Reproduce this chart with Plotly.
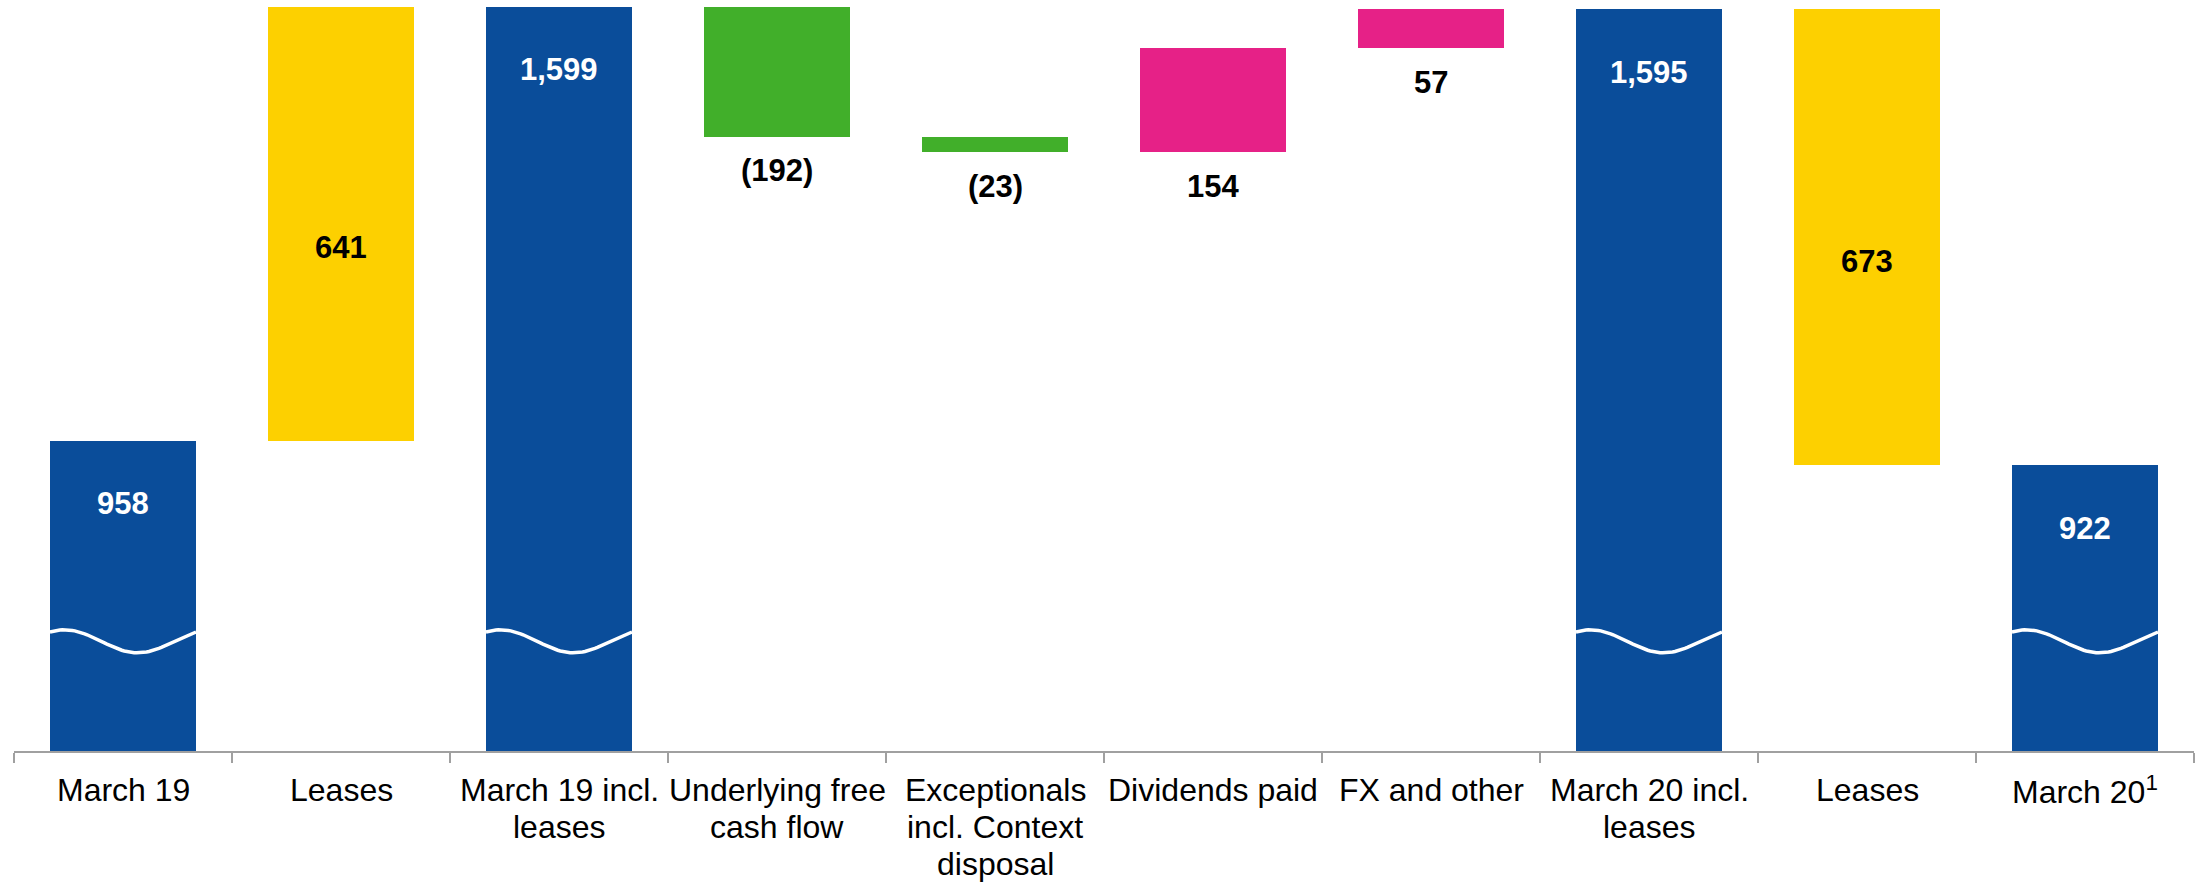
import numpy as np
import plotly.graph_objs as go

# net debt bridge, GBP m
categories = [
    "March 19", "Leases", "March 19 incl.<br>leases", "Underlying free<br>cash flow",
    "Exceptionals<br>incl. Context<br>disposal", "Dividends paid", "FX and other",
    "March 20 incl.<br>leases", "Leases", "March 20<sup>1</sup>",
]
values = [958, 641, 1599, -192, -23, 154, 57, 1595, -673, 922]
kinds = ["total", "lease", "total", "flow", "flow", "flow", "flow", "total", "lease", "total"]
labels = ["958", "641", "1,599", "(192)", "(23)", "154", "57", "1,595", "673", "922"]

BLUE = '#0A4D9A'
YELLOW = '#FDD000'
GREEN = '#41AF2A'
PINK = '#E62187'
FONT = 'Liberation Sans, Arial, sans-serif'
BAR_W = 0.67

xs = list(range(len(categories)))
bases, heights, colors = [], [], []
running = 0
for v, k in zip(values, kinds):
    if k == 'total':
        bases.append(0)
        heights.append(v)
        colors.append(BLUE)
        running = v
    else:
        bases.append(min(running, running + v))
        heights.append(abs(v))
        if k == 'lease':
            colors.append(YELLOW)
        else:
            colors.append(GREEN if v < 0 else PINK)
        running += v

bars = go.Bar(
    x=xs,
    y=heights,
    base=bases,
    width=BAR_W,
    marker=dict(color=colors, line=dict(width=0)),
    hoverinfo='skip',
    showlegend=False,
)

# wavy "axis break" lines across the total bars
wx, wy = [], []
for i, k in enumerate(kinds):
    if k != 'total':
        continue
    t = np.linspace(0, 1, 60)
    wx += list(i - BAR_W / 2 + t * BAR_W) + [None]
    wy += list(662 + 17 * np.cos(2 * np.pi * (t - 0.1))) + [None]

waves = go.Scatter(
    x=wx, y=wy, mode='lines',
    line=dict(color='white', width=3.5),
    hoverinfo='skip', showlegend=False,
)

layout = go.Layout(
    width=2201, height=882,
    plot_bgcolor='white', paper_bgcolor='white',
    margin=dict(l=14, r=7, t=0, b=131, autoexpand=False),
    bargap=0,
    font=dict(family=FONT, size=32, color='black'),
    xaxis=dict(
        range=[-0.5, len(categories) - 0.5],
        tickvals=xs, showticklabels=False,
        ticks='', showgrid=False, zeroline=False, automargin=False,
        showline=True, linecolor='#A0A0A0', linewidth=2,
        minor=dict(tick0=-0.5, dtick=1, ticks='outside', ticklen=10,
                   tickcolor='#A0A0A0', tickwidth=2, showgrid=False),
    ),
    yaxis=dict(range=[500, 1609], visible=False, fixedrange=True, automargin=False),
)

fig = go.Figure(data=[bars, waves], layout=layout)

# category labels, one annotation per line for tighter line spacing
for i, cat in enumerate(categories):
    for j, line in enumerate(cat.split('<br>')):
        fig.add_annotation(
            x=i, xref='x', y=0, yref='paper', yanchor='middle',
            yshift=-39 - 37 * j, text=line, showarrow=False,
            font=dict(family=FONT, size=32, color='black'),
        )

running = 0
for i, (v, k, lab) in enumerate(zip(values, kinds, labels)):
    if k == 'total':
        y, shift, col = v, -63, 'white'
        running = v
    elif k == 'lease':
        y, shift, col = running + v / 2, -24, 'black'
        running += v
    else:
        y, shift, col = min(running, running + v), -34, 'black'
        running += v
    fig.add_annotation(
        x=i, y=y, yshift=shift, text='<b>%s</b>' % lab, showarrow=False,
        yanchor='middle', font=dict(family=FONT, size=31, color=col),
    )

fig.write_html("out.html", config={'displayModeBar': False},
               post_script="document.body.style.margin='0px';")
